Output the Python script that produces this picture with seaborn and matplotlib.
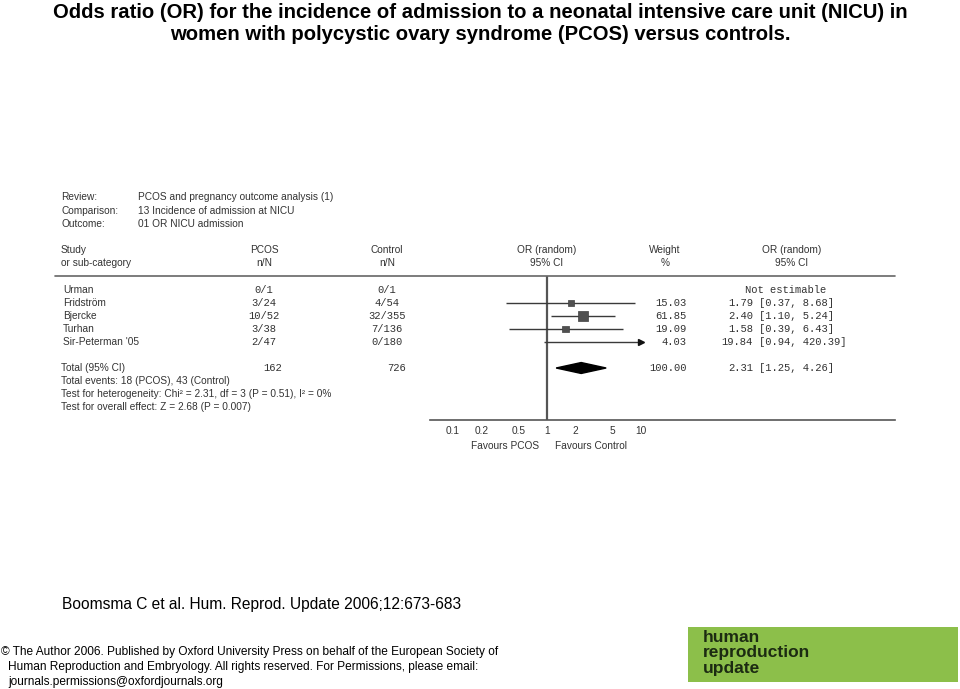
import numpy as np
import pandas as pd
import matplotlib
matplotlib.use("Agg")
import matplotlib.pyplot as plt
import matplotlib.transforms as mtransforms
from matplotlib.lines import Line2D
from matplotlib.patches import Rectangle
import seaborn as sns

# ---------------- data ----------------
studies = ["Urman", "Fridström", "Bjercke", "Turhan", "Sir-Peterman '05"]
pcos_events = [0, 3, 10, 3, 2]
pcos_n = [1, 24, 52, 38, 47]
ctrl_events = [0, 4, 32, 7, 0]
ctrl_n = [1, 54, 355, 136, 180]
weights = [np.nan, 15.03, 61.85, 19.09, 4.03]
or_est = [np.nan, 1.79, 2.40, 1.58, 19.84]
ci_low = [np.nan, 0.37, 1.10, 0.39, 0.94]
ci_high = [np.nan, 8.68, 5.24, 6.43, 420.39]
total_or, total_lo, total_hi = 2.31, 1.25, 4.26
tick_values = [0.1, 0.2, 0.5, 1, 2, 5, 10]
tick_labels = ["0.1", "0.2", "0.5", "1", "2", "5", "10"]
plot_max = 10

title_lines = ["Odds ratio (OR) for the incidence of admission to a neonatal intensive care unit (NICU) in",
               "women with polycystic ovary syndrome (PCOS) versus controls."]

# ---------------- style ----------------
sns.set_style("white")
plt.rcParams["font.family"] = ["Liberation Sans", "DejaVu Sans"]
SANS = ["Liberation Sans", "DejaVu Sans"]
MONO = ["Liberation Mono", "DejaVu Sans Mono"]
TXT = "#333333"
SMALL = 7.3

W, H = 960, 689
fig = plt.figure(figsize=(9.6, 6.89), dpi=100)
fig.patch.set_facecolor("white")

def fx(x):
    return x / W

def fy(y):
    return 1 - y / H

# ---------------- forest axes ----------------
ax = fig.add_axes([fx(430), fy(420), fx(895) - fx(430), (420 - 276) / H])
ax.set_facecolor("none")
ax.set_xscale("log")
px_per_dec = 94.0
ax.set_xlim(10 ** ((430 - 547) / px_per_dec), 10 ** ((895 - 547) / px_per_dec))
ax.set_ylim(10, -14 / 13)

df = pd.DataFrame({"study": studies, "row": np.arange(len(studies)),
                   "or": or_est, "lo": ci_low, "hi": ci_high, "weight": weights})

# confidence intervals
for _, r in df.dropna().iterrows():
    hi = min(r["hi"], plot_max)
    ax.hlines(r["row"], r["lo"], hi, color="#3a3a3a", lw=1.0, zorder=2)
    if r["hi"] > plot_max:
        ax.plot([plot_max], [r["row"]], marker=">", ms=5, color="#111111",
                zorder=3, clip_on=False)

# squares
dplot = df.dropna()
dplot = dplot[dplot["or"] <= plot_max]
sns.scatterplot(data=dplot, x="or", y="row", size="weight", sizes=(22, 48),
                size_norm=(15, 62), marker="s", color="#505050",
                edgecolor="#404040", linewidth=0.5, legend=False, ax=ax, zorder=3)

# pooled diamond
total_row = len(studies) + 1
h = 0.42
ax.fill([total_lo, total_or, total_hi, total_or],
        [total_row, total_row - h, total_row, total_row + h],
        color="black", zorder=3)

# line of no effect
ax.axvline(1, color="#555555", lw=1.6, zorder=1)

ax.set_xticks(tick_values)
ax.set_xticklabels(tick_labels)
ax.xaxis.set_minor_locator(matplotlib.ticker.NullLocator())
ax.set_yticks([])
ax.set_xlabel("")
ax.set_ylabel("")
ax.tick_params(axis="x", direction="inout", length=5, width=1, pad=1.5,
               labelsize=SMALL, labelcolor=TXT, color="#444444")
for s in ["top", "left", "right"]:
    ax.spines[s].set_visible(False)
ax.spines["bottom"].set_color("#555555")
ax.spines["bottom"].set_linewidth(1.2)

# header rule
fig.add_artist(Line2D([fx(55), fx(895)], [fy(276), fy(276)], color="#666666", lw=1.2))

# ---------------- table text ----------------
trans = mtransforms.blended_transform_factory(fig.transFigure, ax.transData)

def ftext(x, y, s, **kw):
    kw.setdefault("fontsize", SMALL)
    kw.setdefault("color", TXT)
    kw.setdefault("family", SANS)
    kw.setdefault("va", "center")
    fig.text(fx(x), fy(y), s, **kw)

ftext(61, 197, "Review:")
ftext(61, 211, "Comparison:")
ftext(61, 224, "Outcome:")
ftext(138, 197, "PCOS and pregnancy outcome analysis (1)")
ftext(138, 211, "13 Incidence of admission at NICU")
ftext(138, 224, "01 OR NICU admission")

ftext(61, 250, "Study")
ftext(61, 263, "or sub-category")
for xc, a, b in [(264, "PCOS", "n/N"), (387, "Control", "n/N"),
                 (547, "OR (random)", "95% CI"), (665, "Weight", "%"),
                 (792, "OR (random)", "95% CI")]:
    ftext(xc, 250, a, ha="center")
    ftext(xc, 263, b, ha="center")

mono = dict(family=MONO, fontsize=7.6, color=TXT, va="center")
for i, s in enumerate(studies):
    fig.text(fx(63), i, s, transform=trans, fontsize=SMALL, color=TXT, family=SANS, va="center")
    fig.text(fx(264), i, f"{pcos_events[i]}/{pcos_n[i]}", transform=trans, ha="center", **mono)
    fig.text(fx(387), i, f"{ctrl_events[i]}/{ctrl_n[i]}", transform=trans, ha="center", **mono)
    if np.isnan(or_est[i]):
        fig.text(fx(745), i, "Not estimable", transform=trans, ha="left", **mono)
    else:
        fig.text(fx(687), i, f"{weights[i]:.2f}", transform=trans, ha="right", **mono)
        fig.text(fx(753), i, f"{or_est[i]:.2f}", transform=trans, ha="right", **mono)
        fig.text(fx(759), i, f"[{ci_low[i]:.2f}, {ci_high[i]:.2f}]", transform=trans, ha="left", **mono)

fig.text(fx(61), total_row, "Total (95% CI)", transform=trans, fontsize=SMALL, color=TXT, family=SANS, va="center")
fig.text(fx(273), total_row, f"{sum(pcos_n)}", transform=trans, ha="center", **mono)
fig.text(fx(397), total_row, f"{sum(ctrl_n)}", transform=trans, ha="center", **mono)
fig.text(fx(687), total_row, f"{np.nansum(weights):.2f}", transform=trans, ha="right", **mono)
fig.text(fx(753), total_row, f"{total_or:.2f}", transform=trans, ha="right", **mono)
fig.text(fx(759), total_row, f"[{total_lo:.2f}, {total_hi:.2f}]", transform=trans, ha="left", **mono)

extra = [f"Total events: {sum(pcos_events)} (PCOS), {sum(ctrl_events)} (Control)",
         "Test for heterogeneity: Chi² = 2.31, df = 3 (P = 0.51), I² = 0%",
         "Test for overall effect: Z = 2.68 (P = 0.007)"]
for k, s in enumerate(extra):
    fig.text(fx(61), total_row + 1 + k, s, transform=trans, fontsize=SMALL, color=TXT, family=SANS, va="center")

ftext(539, 446, "Favours PCOS", ha="right")
ftext(555, 446, "Favours Control", ha="left")

# ---------------- title & footer ----------------
fig.text(fx(480), fy(12), title_lines[0], ha="center", va="center", fontsize=14.6,
         fontweight="bold", color="black", family=SANS)
fig.text(fx(480), fy(34), title_lines[1], ha="center", va="center", fontsize=14.6,
         fontweight="bold", color="black", family=SANS)

fig.text(fx(62), fy(604), "Boomsma C et al. Hum. Reprod. Update 2006;12:673-683",
         ha="left", va="center", fontsize=11.2, color="black", family=SANS)

fig.text(fx(1), fy(652), "© The Author 2006. Published by Oxford University Press on behalf of the European Society of",
         ha="left", va="center", fontsize=8.6, color="black", family=SANS)
fig.text(fx(8), fy(667), "Human Reproduction and Embryology. All rights reserved. For Permissions, please email:",
         ha="left", va="center", fontsize=8.6, color="black", family=SANS)
fig.text(fx(8), fy(682), "journals.permissions@oxfordjournals.org",
         ha="left", va="center", fontsize=8.6, color="black", family=SANS)

fig.add_artist(Rectangle((fx(688), fy(682)), fx(958) - fx(688), (682 - 627) / H,
                         transform=fig.transFigure, facecolor="#8cbf4a", edgecolor="none"))
for yy, s in [(637, "human"), (653, "reproduction"), (669, "update")]:
    fig.text(fx(703), fy(yy), s, ha="left", va="center", fontsize=12.5,
             fontweight="bold", color="#1c2b12", family=SANS)

fig.savefig("out.png", dpi=100, facecolor="white")
